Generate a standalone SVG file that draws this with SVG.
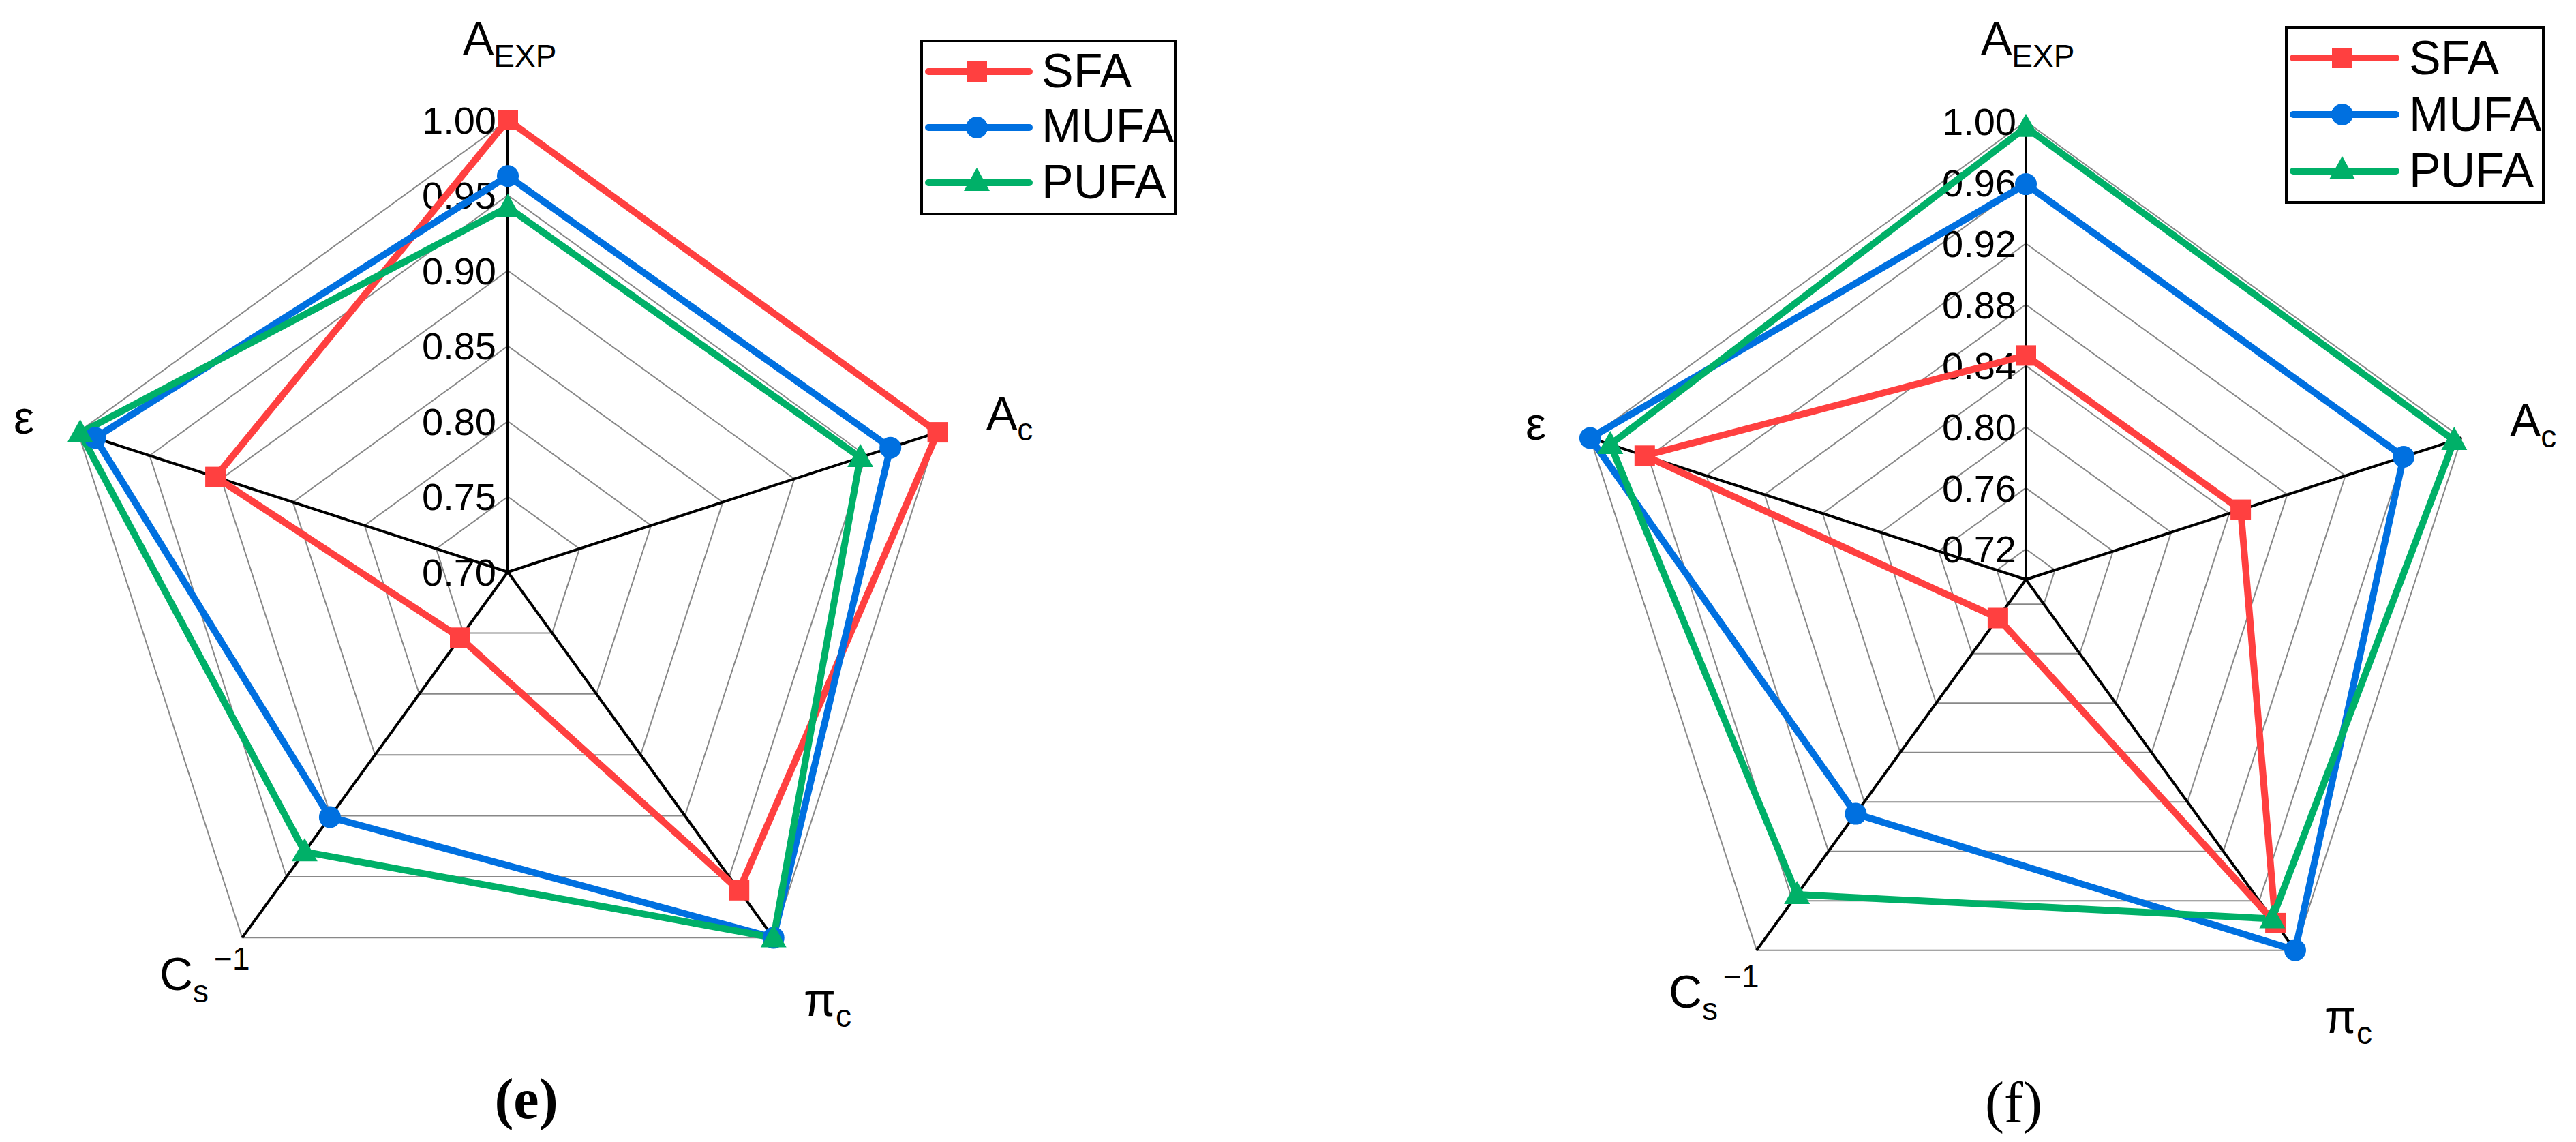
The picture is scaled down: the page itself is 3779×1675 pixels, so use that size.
<svg xmlns="http://www.w3.org/2000/svg" xmlns:xlink="http://www.w3.org/1999/xlink" width="3779" height="1675" viewBox="0 0 3779 1675">
<style>
text{font-family:"Liberation Sans",Arial,sans-serif;fill:#000}
.tick{font-size:56px;text-anchor:end}
.ax{font-size:68px}
.sub{font-size:46px}
.ring{fill:none;stroke:#888;stroke-width:2}
.axis{stroke:#000;stroke-width:4}
.s{fill:none;stroke-width:10;stroke-linejoin:round;stroke-linecap:round}
.red{stroke:#FF4040}.blue{stroke:#0070E0}.green{stroke:#00B068}
.leg{fill:none;stroke:#000;stroke-width:4}
.lbl{font-family:"Liberation Serif","Times New Roman",serif;font-weight:bold;font-size:84px;text-anchor:middle}
.lt{font-size:70px}
</style>
<defs>
<rect id="sq" x="-15" y="-15" width="30" height="30" fill="#FF4040"/>
<circle id="ci" r="16" fill="#0070E0"/>
<polygon id="tr" points="0,-20 19,14 -19,14" fill="#00B068"/>
<polygon id="pent" points="0,-100 95.11,-30.90 58.78,80.90 -58.78,80.90 -95.11,-30.90"/>
</defs>

<g id="chart-e">
<g id="grid-e" class="ring">
<polygon transform="translate(745 839) scale(1.105)" points="0,-100 95.11,-30.90 58.78,80.90 -58.78,80.90 -95.11,-30.90" vector-effect="non-scaling-stroke"/>
<polygon transform="translate(745 839) scale(2.21)" points="0,-100 95.11,-30.90 58.78,80.90 -58.78,80.90 -95.11,-30.90" vector-effect="non-scaling-stroke"/>
<polygon transform="translate(745 839) scale(3.315)" points="0,-100 95.11,-30.90 58.78,80.90 -58.78,80.90 -95.11,-30.90" vector-effect="non-scaling-stroke"/>
<polygon transform="translate(745 839) scale(4.42)" points="0,-100 95.11,-30.90 58.78,80.90 -58.78,80.90 -95.11,-30.90" vector-effect="non-scaling-stroke"/>
<polygon transform="translate(745 839) scale(5.525)" points="0,-100 95.11,-30.90 58.78,80.90 -58.78,80.90 -95.11,-30.90" vector-effect="non-scaling-stroke"/>
<polygon transform="translate(745 839) scale(6.63)" points="0,-100 95.11,-30.90 58.78,80.90 -58.78,80.90 -95.11,-30.90" vector-effect="non-scaling-stroke"/>
</g>
<g id="axes-e" class="axis">
<line x1="745" y1="839" x2="745" y2="176"/>
<line x1="745" y1="839" x2="1375.6" y2="634.1"/>
<line x1="745" y1="839" x2="1134.7" y2="1375.4"/>
<line x1="745" y1="839" x2="355.3" y2="1375.4"/>
<line x1="745" y1="839" x2="114.4" y2="634.1"/>
</g>
<g id="ticks-e" class="tick">
<text x="728" y="196">1.00</text>
<text x="728" y="306">0.95</text>
<text x="728" y="417">0.90</text>
<text x="728" y="527">0.85</text>
<text x="728" y="638">0.80</text>
<text x="728" y="748">0.75</text>
<text x="728" y="859">0.70</text>
</g>
<g id="series-e">
<polygon class="s red" points="745,176 1375.6,634.1 1084.2,1305.8 675,935.3 316.1,699.6"/>
<polygon class="s blue" points="745,258.2 1306.2,656.7 1134.7,1375.4 483.9,1198.4 139.6,642.3"/>
<polygon class="s green" points="745,304 1262.1,671 1134.7,1375.4 446.9,1249.3 117.6,635.1"/>
<use xlink:href="#sq" x="745" y="176"/><use xlink:href="#sq" x="1375.6" y="634.1"/><use xlink:href="#sq" x="1084.2" y="1305.8"/><use xlink:href="#sq" x="675" y="935.3"/><use xlink:href="#sq" x="316.1" y="699.6"/>
<use xlink:href="#ci" x="745" y="258.2"/><use xlink:href="#ci" x="1306.2" y="656.7"/><use xlink:href="#ci" x="1134.7" y="1375.4"/><use xlink:href="#ci" x="483.9" y="1198.4"/><use xlink:href="#ci" x="139.6" y="642.3"/>
<use xlink:href="#tr" x="745" y="304"/><use xlink:href="#tr" x="1262.1" y="671"/><use xlink:href="#tr" x="1134.7" y="1375.4"/><use xlink:href="#tr" x="446.9" y="1249.3"/><use xlink:href="#tr" x="117.6" y="635.1"/>
</g>
<g id="labels-e" class="ax">
<text x="679" y="80">A<tspan class="sub" dy="18">EXP</tspan></text>
<text x="1447" y="630">A<tspan class="sub" dy="16">c</tspan></text>
<text x="20" y="636">ε</text>
<text x="1179" y="1490">π<tspan class="sub" dy="16">c</tspan></text>
<text x="234" y="1452">C<tspan class="sub" dy="18">s</tspan><tspan class="sub" dy="-48" dx="8">−1</tspan></text>
</g>
<g id="legend-e">
<rect class="leg" x="1352" y="60" width="372" height="254"/>
<line class="s red" x1="1362" y1="105" x2="1510" y2="105"/><use xlink:href="#sq" x="1433" y="105"/>
<line class="s blue" x1="1362" y1="187" x2="1510" y2="187"/><use xlink:href="#ci" x="1433" y="187"/>
<line class="s green" x1="1362" y1="268" x2="1510" y2="268"/><use xlink:href="#tr" x="1433" y="266"/>
<text class="lt" x="1528" y="128">SFA</text>
<text class="lt" x="1528" y="209">MUFA</text>
<text class="lt" x="1528" y="291">PUFA</text>
</g>
<text class="lbl" x="772" y="1640">(e)</text>
</g>

<g id="chart-f">
<g id="grid-f" class="ring">
<polygon transform="translate(2972 850) scale(0.448)" points="0,-100 95.11,-30.90 58.78,80.90 -58.78,80.90 -95.11,-30.90" vector-effect="non-scaling-stroke"/>
<polygon transform="translate(2972 850) scale(1.344)" points="0,-100 95.11,-30.90 58.78,80.90 -58.78,80.90 -95.11,-30.90" vector-effect="non-scaling-stroke"/>
<polygon transform="translate(2972 850) scale(2.24)" points="0,-100 95.11,-30.90 58.78,80.90 -58.78,80.90 -95.11,-30.90" vector-effect="non-scaling-stroke"/>
<polygon transform="translate(2972 850) scale(3.136)" points="0,-100 95.11,-30.90 58.78,80.90 -58.78,80.90 -95.11,-30.90" vector-effect="non-scaling-stroke"/>
<polygon transform="translate(2972 850) scale(4.032)" points="0,-100 95.11,-30.90 58.78,80.90 -58.78,80.90 -95.11,-30.90" vector-effect="non-scaling-stroke"/>
<polygon transform="translate(2972 850) scale(4.928)" points="0,-100 95.11,-30.90 58.78,80.90 -58.78,80.90 -95.11,-30.90" vector-effect="non-scaling-stroke"/>
<polygon transform="translate(2972 850) scale(5.824)" points="0,-100 95.11,-30.90 58.78,80.90 -58.78,80.90 -95.11,-30.90" vector-effect="non-scaling-stroke"/>
<polygon transform="translate(2972 850) scale(6.72)" points="0,-100 95.11,-30.90 58.78,80.90 -58.78,80.90 -95.11,-30.90" vector-effect="non-scaling-stroke"/>
</g>
<g id="axes-f" class="axis">
<line x1="2972" y1="850" x2="2972" y2="178"/>
<line x1="2972" y1="850" x2="3611.1" y2="642.4"/>
<line x1="2972" y1="850" x2="3367" y2="1393.6"/>
<line x1="2972" y1="850" x2="2577" y2="1393.6"/>
<line x1="2972" y1="850" x2="2332.9" y2="642.4"/>
</g>
<g id="ticks-f" class="tick">
<text x="2958" y="198">1.00</text>
<text x="2958" y="288">0.96</text>
<text x="2958" y="377">0.92</text>
<text x="2958" y="467">0.88</text>
<text x="2958" y="556">0.84</text>
<text x="2958" y="646">0.80</text>
<text x="2958" y="736">0.76</text>
<text x="2958" y="825">0.72</text>
</g>
<g id="series-f">
<polygon class="s red" points="2972,521.4 3287.1,747.6 3338.1,1353.9 2930.9,906.5 2412.8,668.3"/>
<polygon class="s blue" points="2972,270.1 3526.1,670 3367,1393.6 2722.4,1193.6 2332.9,642.4"/>
<polygon class="s green" points="2972,186.7 3600.3,645.9 3333.4,1347.5 2636.2,1312.1 2362.3,651.9"/>
<use xlink:href="#sq" x="2972" y="521.4"/><use xlink:href="#sq" x="3287.1" y="747.6"/><use xlink:href="#sq" x="3338.1" y="1353.9"/><use xlink:href="#sq" x="2930.9" y="906.5"/><use xlink:href="#sq" x="2412.8" y="668.3"/>
<use xlink:href="#ci" x="2972" y="270.1"/><use xlink:href="#ci" x="3526.1" y="670"/><use xlink:href="#ci" x="3367" y="1393.6"/><use xlink:href="#ci" x="2722.4" y="1193.6"/><use xlink:href="#ci" x="2332.9" y="642.4"/>
<use xlink:href="#tr" x="2972" y="186.7"/><use xlink:href="#tr" x="3600.3" y="645.9"/><use xlink:href="#tr" x="3333.4" y="1347.5"/><use xlink:href="#tr" x="2636.2" y="1312.1"/><use xlink:href="#tr" x="2362.3" y="651.9"/>
</g>
<g id="labels-f" class="ax">
<text x="2906" y="80">A<tspan class="sub" dy="18">EXP</tspan></text>
<text x="3682" y="640">A<tspan class="sub" dy="16">c</tspan></text>
<text x="2238" y="645">ε</text>
<text x="3410" y="1515">π<tspan class="sub" dy="16">c</tspan></text>
<text x="2448" y="1478">C<tspan class="sub" dy="18">s</tspan><tspan class="sub" dy="-48" dx="8">−1</tspan></text>
</g>
<g id="legend-f">
<rect class="leg" x="3354" y="40" width="377" height="257"/>
<line class="s red" x1="3364" y1="85" x2="3515" y2="85"/><use xlink:href="#sq" x="3436" y="85"/>
<line class="s blue" x1="3364" y1="168" x2="3515" y2="168"/><use xlink:href="#ci" x="3436" y="168"/>
<line class="s green" x1="3364" y1="251" x2="3515" y2="251"/><use xlink:href="#tr" x="3436" y="249"/>
<text class="lt" x="3534" y="109">SFA</text>
<text class="lt" x="3534" y="192">MUFA</text>
<text class="lt" x="3534" y="274">PUFA</text>
</g>
<text class="lbl" x="2954" y="1645" style="font-weight:normal">(f)</text>
</g>
</svg>
